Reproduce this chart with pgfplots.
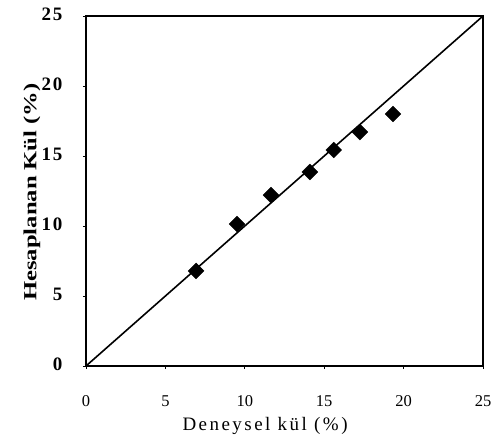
\documentclass[border=0pt]{standalone}
\usepackage{pgfplots}
\pgfplotsset{compat=1.18}
\usepackage{fontspec}
\setmainfont{Liberation Serif}
\begin{document}
\begin{tikzpicture}
\begin{axis}[scale only axis, width=397pt, height=350pt,
  xmin=0, xmax=25, ymin=0, ymax=25,
  xtick={0,5,...,25}, ytick={0,5,...,25},
  xtick pos=bottom, ytick pos=left,
  tick align=outside, major tick length=3pt,
  axis line style={line width=1.8pt},
  tick style={black, line width=0.7pt},
  /pgf/number format/assume math mode=true,
  xticklabel style={font=\fontsize{16.5}{16.5}\selectfont, anchor=base, yshift=-37pt},
  yticklabel style={font=\addfontfeatures{LetterSpace=10}\bfseries\fontsize{19}{19}\selectfont, xshift=-17pt, yshift=2pt},
  xlabel={\addfontfeatures{LetterSpace=13}\fontsize{19}{19}\selectfont Deneysel kül (\%)},
  ylabel={\addfontfeatures{FakeStretch=1.33}\bfseries\fontsize{18.5}{18.5}\selectfont Hesaplanan Kül (\%)},
  xlabel style={at={(axis description cs:0.451,-0.183)}, anchor=base},
  ylabel style={at={(axis description cs:-0.136,0.497)}, anchor=center},
  clip=false]
  \addplot[black, line width=1.6pt] coordinates {(0,0) (25,25)};
  \addplot[only marks, mark=square*, mark size=5.6pt, mark options={rotate=45}, black] coordinates {
    (6.93,6.79) (9.51,10.14) (11.65,12.21) (14.1,13.86) (15.6,15.43) (17.25,16.71) (19.33,18.0)};
\end{axis}
\pgfresetboundingbox
\useasboundingbox (-86pt,-76pt) rectangle (412pt,366pt);
\end{tikzpicture}
\end{document}
